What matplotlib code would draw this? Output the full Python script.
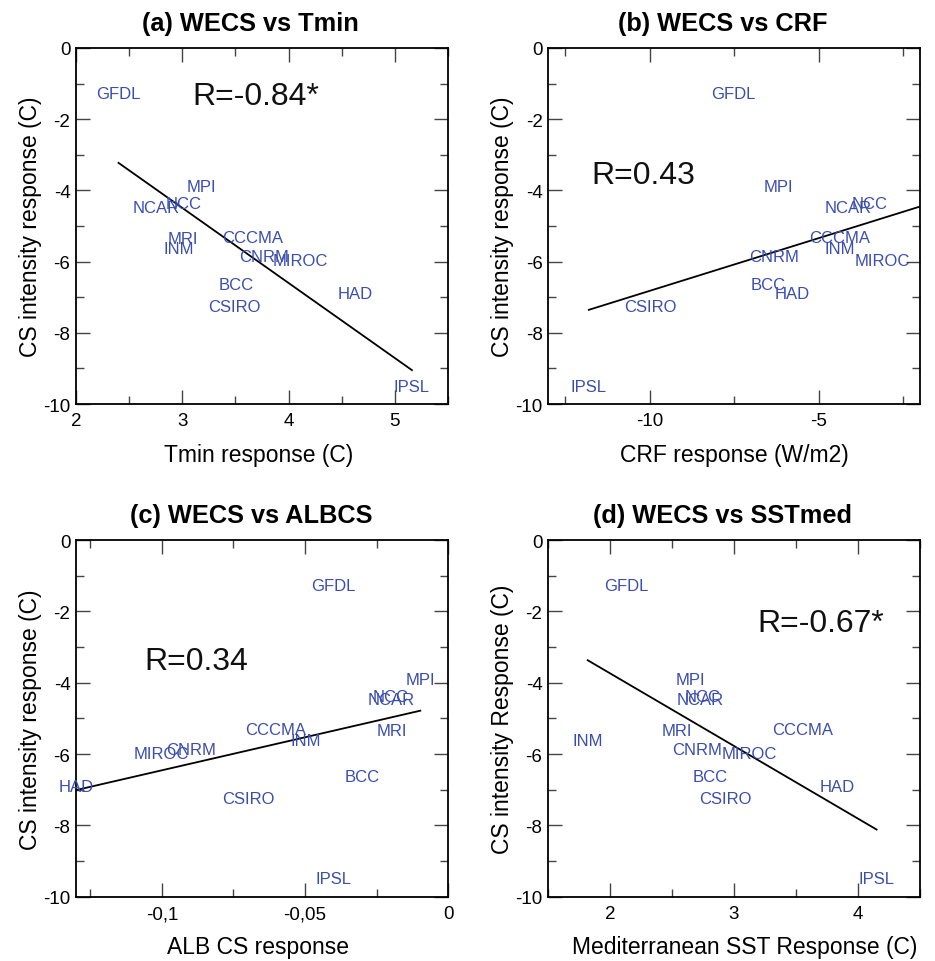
import matplotlib
matplotlib.use("Agg")
import matplotlib.pyplot as plt
import numpy as np
from matplotlib.ticker import FuncFormatter, MultipleLocator

plt.rcParams["font.family"] = ["Liberation Sans", "DejaVu Sans"]

models = ["GFDL", "MPI", "NCC", "NCAR", "MRI", "CCCMA", "INM",
          "CNRM", "MIROC", "BCC", "HAD", "CSIRO", "IPSL"]

# CS intensity response (C), shared y for all panels
cs_intensity = [-1.27, -3.90, -4.38, -4.48, -5.35, -5.31, -5.62,
                -5.86, -5.98, -6.63, -6.90, -7.25, -9.50]

tmin_resp = [2.40, 3.18, 3.01, 2.75, 3.01, 3.66, 2.97,
             3.77, 4.11, 3.51, 4.63, 3.49, 5.16]
# MRI lies right of the plotted range in (b), so its label is clipped
crf_resp = [-7.51, -6.19, -3.50, -4.12, -1.50, -4.39, -4.38,
            -6.32, -3.11, -6.49, -5.78, -9.98, -11.80]
alb_resp = [-0.0400, -0.0097, -0.0200, -0.0199, -0.0198, -0.0601, -0.0498,
            -0.0899, -0.1001, -0.0300, -0.1300, -0.0699, -0.0399]
sst_resp = [2.13, 2.65, 2.75, 2.73, 2.54, 3.55, 1.82,
            2.70, 3.12, 2.81, 3.83, 2.93, 4.15]

titles = ["(a) WECS vs Tmin", "(b) WECS vs CRF",
          "(c) WECS vs ALBCS", "(d) WECS vs SSTmed"]
xlabels = ["Tmin response (C)", "CRF response (W/m2)",
           "ALB CS response", "Mediterranean SST Response (C)"]
ylabels = ["CS intensity response (C)", "CS intensity response (C)",
           "CS intensity response (C)", "CS intensity Response (C)"]
r_texts = ["R=-0.84*", "R=0.43", "R=0.34", "R=-0.67*"]
r_pos = [(3.09, -1.34), (-11.73, -3.56), (-0.1062, -3.38), (3.19, -2.33)]
xlims = [(2, 5.5), (-13, -2), (-0.13, 0), (1.5, 4.5)]
xmajor = [1, 5, 0.05, 1]
xminor = [0.5, 2.5, 0.025, 0.5]

BLUE = "#3a4db0"

fig = plt.figure(figsize=(9.35, 9.62), dpi=100)
boxes = [
    [0.0813, 0.5790, 0.3979, 0.3701],
    [0.5864, 0.5790, 0.3975, 0.3701],
    [0.0813, 0.0668, 0.3979, 0.3708],
    [0.5861, 0.0668, 0.3979, 0.3708],
]
xlabel_x = [0.49, 0.5, 0.488, 0.53]
xdata = [tmin_resp, crf_resp, alb_resp, sst_resp]

for i, box in enumerate(boxes):
    ax = fig.add_axes(box)
    x = np.array(xdata[i])
    y = np.array(cs_intensity)
    lo, hi = xlims[i]

    for name, xv, yv in zip(models, x, y):
        ax.text(xv, yv, name, color=BLUE, fontsize=12,
                ha="center", va="center", zorder=3,
                clip_on=not (lo <= xv <= hi))

    # least-squares line over the range of the data
    slope, icpt = np.polyfit(x, y, 1)
    xs = np.array([x.min(), x.max()])
    ax.plot(xs, slope * xs + icpt, color="black", lw=1.3, zorder=2)

    ax.text(r_pos[i][0], r_pos[i][1], r_texts[i], fontsize=23,
            ha="left", va="center", color="#111111")

    ax.set_xlim(lo, hi)
    ax.set_ylim(-10, 0)
    ax.xaxis.set_major_locator(MultipleLocator(xmajor[i]))
    ax.xaxis.set_minor_locator(MultipleLocator(xminor[i]))
    ax.yaxis.set_major_locator(MultipleLocator(2))
    ax.yaxis.set_minor_locator(MultipleLocator(1))
    if i == 2:
        ax.xaxis.set_major_formatter(FuncFormatter(
            lambda v, p: "0" if abs(v) < 1e-9 else f"{v:g}".replace(".", ",")))
    else:
        ax.xaxis.set_major_formatter(FuncFormatter(lambda v, p: f"{v:g}"))
    ax.yaxis.set_major_formatter(FuncFormatter(lambda v, p: f"{v:g}"))

    ax.tick_params(which="both", direction="in", top=True, right=True,
                   color="#444444", width=1.0, labelsize=13.5)
    ax.tick_params(which="major", length=10)
    ax.tick_params(axis="y", which="major", pad=4)
    ax.tick_params(axis="x", which="major", pad=6)
    ax.tick_params(which="minor", length=5.5)
    for sp in ax.spines.values():
        sp.set_linewidth(1.3)

    ax.set_title(titles[i], fontsize=18.3, fontweight="bold", x=0.47, pad=13)
    ax.set_xlabel(xlabels[i], fontsize=16.5, labelpad=9.5, x=xlabel_x[i])
    ax.set_ylabel(ylabels[i], fontsize=16.5, labelpad=1)

fig.savefig("out.png", dpi=100)
